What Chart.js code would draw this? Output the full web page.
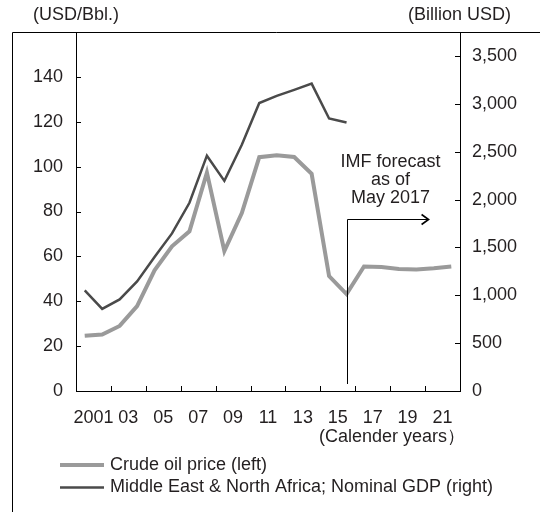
<!DOCTYPE html>
<html>
<head>
<meta charset="utf-8">
<script src="https://cdn.jsdelivr.net/npm/chart.js@4/dist/chart.umd.min.js"></script>
<style>
  body { margin: 0; background: #fff; }
</style>
</head>
<body>
<canvas id="oilChart" width="540" height="512"></canvas>
<script>
// Crude oil price vs. MENA nominal GDP, 2001-2022 (IMF forecast from 2017)
const years = [2001, 2002, 2003, 2004, 2005, 2006, 2007, 2008, 2009, 2010, 2011,
  2012, 2013, 2014, 2015, 2016, 2017, 2018, 2019, 2020, 2021, 2022];
const oilPrice = [24.6, 25.2, 29.0, 37.8, 53.8, 64.5, 71.2, 97.3, 62.4, 79.3, 104.2,
  105.1, 104.3, 96.8, 51.2, 43.2, 55.5, 55.3, 54.4, 54.2, 54.7, 55.5];
const menaGdp = [1052, 858, 957, 1145, 1399, 1646, 1966, 2458, 2195, 2572, 3008,
  3083, 3146, 3211, 2847, 2805];
const leftTicks = [0, 20, 40, 60, 80, 100, 120, 140];
const rightTicks = [0, 500, 1000, 1500, 2000, 2500, 3000, 3500];
const forecastNote = ["IMF forecast", "as of", "May 2017"];

const FONT = "'Liberation Sans', Arial, sans-serif";
const TEXT = "#231f20";

const extras = {
  id: "extras",
  afterDraw(chart) {
    const ctx = chart.ctx;
    const area = chart.chartArea;
    const x = chart.scales.x;
    const yL = chart.scales.y;
    const yR = chart.scales.y1;
    ctx.save();
    ctx.strokeStyle = "#000";
    ctx.lineWidth = 1;

    // outer frame (cropped at right and bottom)
    ctx.beginPath();
    ctx.moveTo(12.5, 512);
    ctx.lineTo(12.5, 32.5);
    ctx.lineTo(540, 32.5);
    ctx.stroke();

    // inward tick marks
    const half = (x.getPixelForValue(1) - x.getPixelForValue(0)) / 2;
    ctx.beginPath();
    for (let i = 2; i < years.length; i += 2) {
      const px = Math.round(x.getPixelForValue(i) - half) + 0.5;
      ctx.moveTo(px, area.bottom);
      ctx.lineTo(px, area.bottom - 5);
    }
    leftTicks.forEach((v) => {
      const py = Math.round(yL.getPixelForValue(v)) + 0.5;
      ctx.moveTo(area.left, py);
      ctx.lineTo(area.left + 5, py);
    });
    rightTicks.forEach((v) => {
      const py = Math.round(yR.getPixelForValue(v)) + 0.5;
      ctx.moveTo(area.right, py);
      ctx.lineTo(area.right - 5, py);
    });
    ctx.stroke();

    // forecast arrow from 2016
    const ax = Math.round(x.getPixelForValue(years.indexOf(2016))) + 0.5;
    const ay = 219.5;
    const ex = x.getPixelForValue(19.7);
    ctx.beginPath();
    ctx.moveTo(ax, area.bottom - 7);
    ctx.lineTo(ax, ay);
    ctx.lineTo(ex, ay);
    ctx.stroke();
    ctx.beginPath();
    ctx.lineWidth = 1.6;
    ctx.moveTo(ex - 7, ay - 5);
    ctx.lineTo(ex, ay);
    ctx.lineTo(ex - 7, ay + 5);
    ctx.stroke();

    // texts
    ctx.fillStyle = TEXT;
    ctx.font = "18px " + FONT;
    ctx.textBaseline = "alphabetic";
    ctx.textAlign = "center";
    forecastNote.forEach((t, i) => ctx.fillText(t, 390.5, 167 + i * 18));

    ctx.textBaseline = "middle";
    ctx.textAlign = "left";
    ctx.fillText("(USD/Bbl.)", 33, 15);
    ctx.fillText("(Calender years\uFF09", 319, 437);
    ctx.textAlign = "right";
    ctx.fillText("(Billion USD)", 511, 15);

    // legend
    ctx.textAlign = "left";
    chart.data.datasets.forEach((ds, i) => {
      const ly = 465 + i * 22.5;
      ctx.beginPath();
      ctx.strokeStyle = ds.borderColor;
      ctx.lineWidth = ds.borderWidth;
      ctx.moveTo(60, ly);
      ctx.lineTo(104, ly);
      ctx.stroke();
      ctx.fillText(ds.label, 110, ly);
    });
    ctx.restore();
  },
};

const ctx = document.getElementById("oilChart").getContext("2d");
new Chart(ctx, {
  type: "line",
  data: {
    labels: years,
    datasets: [
      {
        label: "Crude oil price (left)",
        data: oilPrice,
        yAxisID: "y",
        borderColor: "#9a9a9a",
        borderWidth: 4,
        pointRadius: 0,
        tension: 0,
        order: 2,
      },
      {
        label: "Middle East & North Africa; Nominal GDP (right)",
        data: menaGdp,
        yAxisID: "y1",
        borderColor: "#4a4a4a",
        borderWidth: 2.5,
        pointRadius: 0,
        tension: 0,
        order: 1,
      },
    ],
  },
  options: {
    responsive: false,
    animation: false,
    layout: { padding: { top: 32, left: 0, right: 0, bottom: 0 } },
    scales: {
      x: {
        offset: true,
        grid: { display: true, drawOnChartArea: false, drawTicks: false },
        border: { color: "#000", width: 1 },
        afterFit: (s) => { s.height = 121; },
        ticks: {
          autoSkip: false,
          maxRotation: 0,
          padding: 16,
          labelOffset: 8.7,
          color: TEXT,
          font: { family: FONT, size: 18 },
          callback: (v, i) => {
            if (i % 2 !== 0) return "";
            return i === 0 ? String(years[i]) : String(years[i]).slice(2);
          },
        },
      },
      y: {
        position: "left",
        min: 0,
        max: 160,
        grid: { display: true, drawOnChartArea: false, drawTicks: false },
        border: { color: "#000", width: 1 },
        afterFit: (s) => { s.width = 76; },
        afterBuildTicks: (s) => { s.ticks = leftTicks.map((v) => ({ value: v })); },
        ticks: {
          padding: 13,
          color: TEXT,
          font: { family: FONT, size: 18 },
        },
      },
      y1: {
        position: "right",
        min: 0,
        max: 3750,
        grid: { display: true, drawOnChartArea: false, drawTicks: false },
        border: { color: "#000", width: 1 },
        afterFit: (s) => { s.width = 80; },
        afterBuildTicks: (s) => { s.ticks = rightTicks.map((v) => ({ value: v })); },
        ticks: {
          padding: 12,
          color: TEXT,
          font: { family: FONT, size: 18 },
          callback: (v) => v.toLocaleString("en-US"),
        },
      },
    },
    plugins: {
      legend: { display: false },
      tooltip: { enabled: false },
    },
  },
  plugins: [extras],
});
</script>
</body>
</html>
